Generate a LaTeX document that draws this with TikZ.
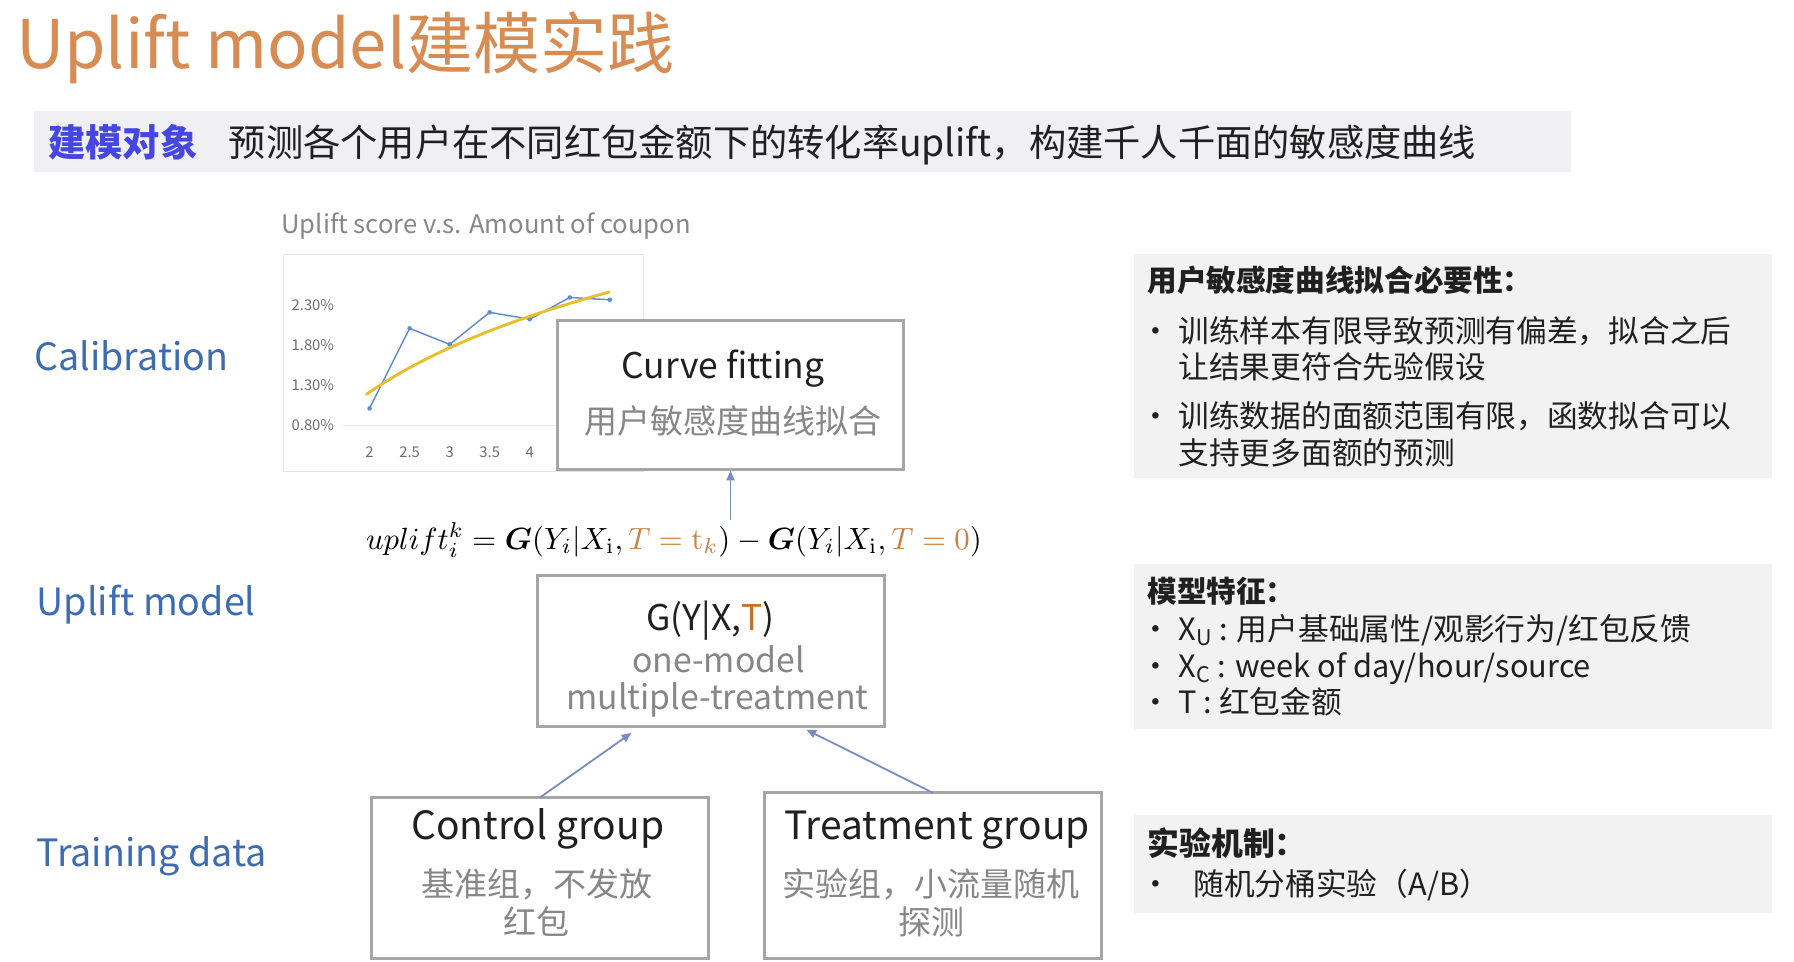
\documentclass[tikz,border=0pt]{standalone}
\usepackage[no-math]{fontspec}
\setmainfont{Noto Sans CJK SC}
\usepackage{bm}
\usepackage{graphicx}
\usetikzlibrary{arrows.meta,fit,calc}

\definecolor{titleor}{RGB}{214,140,82}
\definecolor{lblue}{RGB}{62,108,178}
\definecolor{keyblue}{RGB}{70,70,225}
\definecolor{bandgray}{RGB}{240,240,243}
\definecolor{panelgray}{RGB}{242,242,242}
\definecolor{boxgray}{RGB}{166,166,166}
\definecolor{subgray}{RGB}{135,135,135}
\definecolor{arrblue}{RGB}{118,140,192}
\definecolor{txt}{RGB}{32,32,32}
\definecolor{tor}{RGB}{200,130,70}
\definecolor{gor}{RGB}{200,110,40}
\definecolor{ptblue}{RGB}{95,140,205}
\definecolor{fitgold}{RGB}{230,192,45}
\definecolor{axgray}{RGB}{110,110,110}
\definecolor{framegray}{RGB}{228,228,228}

\newcommand\fsz[2]{\fontsize{#1}{#2}\selectfont}

\begin{document}
\begin{tikzpicture}[x=0.025cm,y=-0.025cm,
  every node/.style={inner sep=0pt, outer sep=0pt},
  box/.style={draw=boxgray, line width=1.8pt, fill=white, inner sep=0pt},
  panel/.style={fill=panelgray, inner sep=0pt},
  arr/.style={draw=arrblue, line width=1.1pt, -{Triangle[length=6pt,width=5pt]}},
  sidelbl/.style={anchor=base west, text=lblue, font=\fsz{23.4pt}{28pt}},
  boxhead/.style={anchor=base, text=txt, font=\fsz{22pt}{26pt}},
  boxsub/.style={anchor=base, text=subgray, font=\fsz{20.5pt}{24pt}},
  grphead/.style={anchor=base, text=txt, font=\fsz{24.2pt}{29pt}},
  pnlhead/.style={anchor=base west, text=txt, font=\fsz{18.4pt}{22pt}\bfseries},
  pnltxt/.style={anchor=base west, text=txt, font=\fsz{19.1pt}{23pt}},
  ytick/.style={anchor=base east, text=axgray, font=\fsz{9.2pt}{11pt}},
  xtick/.style={anchor=base, text=axgray, font=\fsz{9.2pt}{11pt}}
]
\useasboundingbox (0,0) rectangle (1568,840);
\fill[white] (0,0) rectangle (1568,840);

% page title
\node[anchor=base west, text=titleor, font=\fsz{41.7pt}{50pt}] (title) at (14,60) {Uplift model建模实践};

% objective band
\node[fill=bandgray, fit={(30,97) (1373,150)}] (band) {};
\node[anchor=base west, text=keyblue, font=\fsz{23.2pt}{28pt}\bfseries] (objkey) at (42,137) {建模对象};
\node[anchor=base west, text=txt, font=\fsz{23.15pt}{28pt}] (objtxt) at (200,137) {预测各个用户在不同红包金额下的转化率uplift，构建千人千面的敏感度曲线};

% stage labels
\node[sidelbl] (lcal) at (30,324) {Calibration};
\node[sidelbl] (lupl) at (32,538) {Uplift model};
\node[sidelbl] (ltrn) at (32,757) {Training data};

% uplift curve chart
\node[anchor=base west, text=subgray, font=\fsz{15.9pt}{19pt}] (ctitle) at (246,204) {Uplift score v.s. Amount of coupon};
\draw[framegray, line width=0.6pt] (248,222) rectangle (562,412);
\draw[framegray!70, line width=0.5pt] (300,372) -- (560,372);
\node[ytick] (y1) at (292,271.5) {2.30\%};
\node[ytick] (y2) at (292,306.5) {1.80\%};
\node[ytick] (y3) at (292,341.5) {1.30\%};
\node[ytick] (y4) at (292,376.5) {0.80\%};
\foreach \xv/\xl [count=\i] in {323/2, 358/2.5, 393/3, 428/3.5, 463/4, 498/4.5, 533/5}
  \node[xtick] (x\i) at (\xv,399.5) {\xl};
\draw[ptblue, line width=0.9pt] (323,357) -- (358,287) -- (393,301) -- (428,273) -- (463,279) -- (498,260) -- (533,262);
\foreach \p in {(323,357),(358,287),(393,301),(428,273),(463,279),(498,260),(533,262)}
  \fill[ptblue] \p circle (2);
\draw[fitgold, line width=1.8pt, line cap=round] plot[domain=1.96:4.99, samples=40, smooth]
  ({323+(\x-2)*70}, {372-(0.27+1.367*ln(\x)-0.8)*70});

% calibration box
\node[box, fit={(487,280) (790,410)}] (cf) {};
\node[boxhead] (cft) at (632,331) {Curve fitting};
\node[boxsub] (cfs) at (641,378.5) {用户敏感度曲线拟合};

% uplift formula
\node (form) at (589,472) {\resizebox{13.45cm}{!}{$uplift_i^k = \bm{G}(Y_i|X_{\mathrm{i}},{\color{tor}T}\mathrel{\color{tor}=}{\color{tor}\mathrm{t}_k}) - \bm{G}(Y_i|X_{\mathrm{i}},{\color{tor}T}\mathrel{\color{tor}=}{\color{tor}0})$}};

% uplift model box
\node[box, fit={(470,503) (773,635)}] (gm) {};
\node[boxhead] (gmt) at (621,551) {G(Y|X,{\color{gor}T})};
\node[boxsub, font=\fsz{21pt}{25pt}] (gms1) at (628,588) {one-model};
\node[boxsub, font=\fsz{21pt}{25pt}] (gms2) at (627,620) {multiple-treatment};

% training data boxes
\node[box, fit={(325,697) (619,838)}] (ctrl) {};
\node[grphead] (ctrlt) at (470,734) {Control group};
\node[boxsub] (ctrls1) at (469,783.5) {基准组，不发放};
\node[boxsub] (ctrls2) at (469,816.5) {红包};

\node[box, fit={(668,693) (963,838)}] (trt) {};
\node[grphead] (trtt) at (819,734) {Treatment group};
\node[boxsub] (trts1) at (814,783.5) {实验组，小流量随机};
\node[boxsub] (trts2) at (814,816.5) {探测};

% connectors
\draw[arr] ([yshift=2pt]cf.south |- form.north) -- ([yshift=-1pt]cf.south);
\draw[arr] (ctrl.north) -- ([yshift=-4pt]$(gm.south west)!0.27!(gm.south east)$);
\draw[arr] (trt.north) -- ([yshift=-2pt]$(gm.south west)!0.775!(gm.south east)$);

% right-hand notes
\node[panel, fit={(991,222) (1549,418)}] (p1) {};
\node[pnlhead] (p1h) at (1003,254.5) {用户敏感度曲线拟合必要性：};
\node[pnltxt] (p1b1) at (997,299) {•};
\node[pnltxt] (p1l1) at (1030,299) {训练样本有限导致预测有偏差，拟合之后};
\node[pnltxt] (p1l2) at (1030,331) {让结果更符合先验假设};
\node[pnltxt] (p1b2) at (997,374) {•};
\node[pnltxt] (p1l3) at (1030,374) {训练数据的面额范围有限，函数拟合可以};
\node[pnltxt] (p1l4) at (1030,406) {支持更多面额的预测};

\node[panel, fit={(991,493) (1549,637)}] (p2) {};
\node[pnlhead] (p2h) at (1003,526.5) {模型特征：};
\node[pnltxt] (p2b1) at (997,560) {•};
\node[pnltxt] (p2l1) at (1030,560) {X\textsubscript{U} : 用户基础属性/观影行为/红包反馈};
\node[pnltxt] (p2b2) at (997,592) {•};
\node[pnltxt] (p2l2) at (1030,592) {X\textsubscript{C} : week of day/hour/source};
\node[pnltxt] (p2b3) at (997,624) {•};
\node[pnltxt] (p2l3) at (1030,624) {T : 红包金额};

\node[panel, fit={(991,712) (1549,798)}] (p3) {};
\node[pnlhead, font=\fsz{19.8pt}{24pt}\bfseries] (p3h) at (1003,748) {实验机制：};
\node[pnltxt] (p3b1) at (997,783) {•};
\node[pnltxt] (p3l1) at (1043,783) {随机分桶实验（A/B）};
\end{tikzpicture}
\end{document}
